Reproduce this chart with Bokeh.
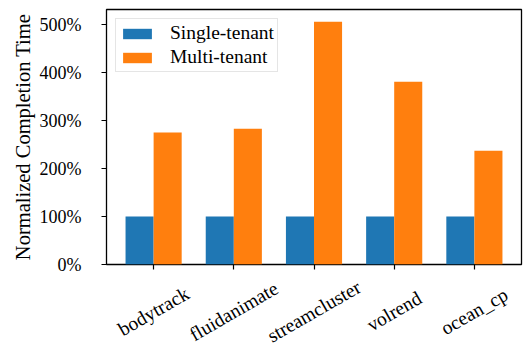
import math
from bokeh.plotting import figure
from bokeh.layouts import column
from bokeh.models import (ColumnDataSource, Range1d, FixedTicker, PrintfTickFormatter,
                          Legend, LegendItem)
from bokeh.core.properties import value
from bokeh.embed import file_html
from bokeh.resources import INLINE

# Normalized completion time (%) per benchmark
benchmarks = ["bodytrack", "fluidanimate", "streamcluster", "volrend", "ocean_cp"]
single_tenant = [100, 100, 100, 100, 100]
multi_tenant = [275, 283, 506, 381, 237]
y_ticks = [0, 100, 200, 300, 400, 500]

FONT = "Liberation Serif"
BLUE = "#1f77b4"
ORANGE = "#ff7f0e"
W = 0.35
LEFT, RIGHT = 106, 5
MAIN_H, LABEL_H = 274, 80

idx = list(range(len(benchmarks)))
src = ColumnDataSource(dict(
    x=idx,
    x_single=[i - W / 2 for i in idx],
    x_multi=[i + W / 2 for i in idx],
    single=single_tenant,
    multi=multi_tenant,
    name=benchmarks,
))

x_range = Range1d(-0.5875, len(idx) - 1 + 0.5875)

p = figure(width=526, height=MAIN_H, output_backend="svg", toolbar_location=None,
           x_range=x_range, y_range=Range1d(0, max(multi_tenant) * 1.05))
p.min_border_left = LEFT
p.min_border_right = RIGHT
p.min_border_top = 9
p.min_border_bottom = 10
p.background_fill_color = "white"
p.border_fill_color = "white"
p.outline_line_color = "black"
p.outline_line_width = 1.3
p.grid.visible = False

r1 = p.vbar(x="x_single", top="single", width=W, source=src, fill_color=BLUE, line_color=None)
r2 = p.vbar(x="x_multi", top="multi", width=W, source=src, fill_color=ORANGE, line_color=None)

# y axis
ya = p.yaxis[0]
ya.ticker = FixedTicker(ticks=y_ticks)
ya.formatter = PrintfTickFormatter(format="%d%%")
ya.axis_label = "Normalized Completion Time"
ya.axis_label_text_font = FONT
ya.axis_label_text_font_size = "20.5px"
ya.axis_label_text_font_style = "normal"
ya.axis_label_text_color = "black"
ya.axis_label_standoff = 3
ya.major_label_text_font = FONT
ya.major_label_text_font_size = "18px"
ya.major_label_text_color = "black"
ya.major_label_standoff = 20
ya.axis_line_color = None
ya.major_tick_in = 0
ya.major_tick_out = 5
ya.major_tick_line_width = 1.2
ya.minor_tick_line_color = None

# x axis: tick marks only; names are drawn centred and rotated in the strip below
xa = p.xaxis[0]
xa.ticker = FixedTicker(ticks=idx)
xa.major_label_text_alpha = 0
xa.major_label_text_font_size = "2px"
xa.major_label_standoff = 0
xa.axis_line_color = None
xa.major_tick_in = 0
xa.major_tick_out = 5
xa.major_tick_line_width = 1.2
xa.minor_tick_line_color = None

legend = Legend(items=[LegendItem(label="Single-tenant", renderers=[r1]),
                       LegendItem(label="Multi-tenant", renderers=[r2])],
                location="top_left")
legend.label_text_font = FONT
legend.label_text_font_size = "19.5px"
legend.label_text_color = "black"
legend.glyph_width = 36
legend.glyph_height = 13
legend.label_height = 18
legend.label_standoff = 15
legend.padding = 3
legend.spacing = 2
legend.margin = 9
legend.border_line_color = "#cccccc"
legend.border_line_width = 1
legend.background_fill_alpha = 0.8
p.add_layout(legend)

# strip holding the rotated benchmark names, sharing the bar chart's x range
q = figure(width=526, height=LABEL_H, output_backend="svg", toolbar_location=None,
           x_range=x_range, y_range=Range1d(0, LABEL_H),
           x_axis_location=None, y_axis_location=None)
q.min_border_left = LEFT
q.min_border_right = RIGHT
q.min_border_top = 0
q.min_border_bottom = 0
q.outline_line_color = None
q.grid.visible = False
q.background_fill_color = "white"
q.border_fill_color = "white"
q.text(x="x", y=LABEL_H - 37, text="name", source=src, angle=math.pi / 6,
       text_align="center", text_baseline="middle",
       text_font=value(FONT), text_font_size="19.5px", text_color="black")

open("out.html", "w").write(file_html(column(p, q, spacing=0), INLINE))
